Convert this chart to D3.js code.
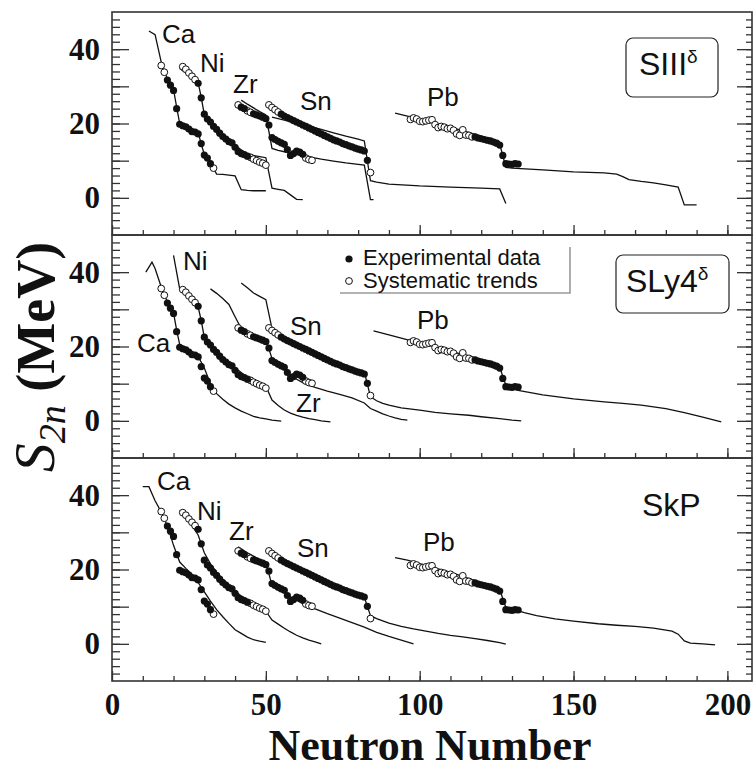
<!DOCTYPE html>
<html>
<head>
<meta charset="utf-8">
<script src="https://cdn.jsdelivr.net/npm/d3@7"></script>
<style>
body { margin: 0; background: #fff; }
text { fill: #111; }
</style>
</head>
<body>
<svg id="s2n-chart" width="756" height="774"></svg>
<script>
// ---- tick labels
var xTicks = [0, 50, 100, 150, 200];
var yTicks = [0, 20, 40];
var elements = ["Ca", "Ni", "Zr", "Sn", "Pb"];

// ---- experimental S2n [N, MeV] (filled) and systematic trends (open)
var caExp = [[18,31.7],[19,30.3],[20,28.9],[21,24.0],[22,19.8],[23,19.4],[24,19.1],[25,18.5],[26,17.8],[27,17.7],[28,17.2],[29,14.6],[30,11.5],[31,10.7],[32,9.2]];
var caSys = [[16,35.6],[17,33.8],[33,8.0]];
var niExp = [[28,30.8],[29,26.9],[30,22.5],[31,21.2],[32,20.4],[33,19.2],[34,18.4],[35,17.4],[36,16.5],[37,15.8],[38,15.1],[39,14.8],[40,13.6],[41,12.4],[42,11.9],[43,11.6],[44,11.2]];
var niSys = [[23,35.3],[24,34.6],[25,33.6],[26,32.7],[27,31.8],[45,10.9],[46,10.4],[47,10.0],[48,9.6],[49,9.3],[50,8.8]];
var zrExp = [[42,24.4],[43,24.0],[46,22.6],[47,22.3],[48,22.0],[49,21.7],[50,21.3],[51,19.6],[52,16.2],[53,15.7],[54,15.2],[55,14.8],[56,14.4],[57,13.0],[58,11.4],[59,11.9],[60,12.6],[61,12.3],[62,11.7]];
var zrSys = [[41,25.0],[44,23.4],[45,23.0],[63,10.7],[64,10.3],[65,10.1]];
var snExp = [[55,22.5],[56,22.0],[57,21.6],[58,21.2],[59,20.8],[60,20.4],[61,20.0],[62,19.6],[63,19.2],[64,18.8],[65,18.4],[66,18.0],[67,17.6],[68,17.2],[69,16.8],[70,16.4],[71,16.0],[72,15.6],[73,15.3],[74,15.0],[75,14.6],[76,14.3],[77,14.0],[78,13.7],[79,13.4],[80,13.1],[81,12.9],[82,12.6],[83,10.1]];
var snSys = [[51,25.0],[52,24.3],[53,23.7],[54,23.1],[84,6.8]];
var pbExp = [[118,16.4],[119,16.1],[120,15.9],[121,15.7],[122,15.5],[123,15.3],[124,15.0],[125,14.7],[126,14.2],[127,11.4],[128,9.2],[129,9.1],[130,9.0],[131,9.2],[132,9.1]];
var pbSys = [[97,21.1],[98,21.5],[99,21.2],[100,20.6],[101,20.5],[102,20.7],[103,20.9],[104,21.0],[105,19.7],[106,18.9],[107,19.2],[108,19.0],[109,18.6],[110,18.7],[111,18.2],[112,17.2],[113,16.8],[114,18.3],[115,16.9],[116,16.8],[117,16.4]];

// ---- HFB curves, SIII^delta
var caSIII = [[12,44.9],[14,43.9],[16,36.5],[18,32.0],[20,29.1],[21,24.5],[22,20.0],[24,19.3],[26,18.4],[28,17.6],[29,14.5],[30,11.6],[32,9.4],[34,6.4],[36,6.3],[38,6.1],[40,5.9],[42,2.2],[44,2.0],[46,1.9],[48,1.9],[50,1.9]];
var niSIII = [[22,34.8],[24,33.6],[26,32.3],[28,31.0],[29,27.0],[30,22.4],[32,20.6],[34,18.9],[36,17.1],[38,15.7],[40,14.3],[42,12.9],[44,11.8],[46,11.4],[48,11.1],[50,10.8],[52,2.6],[54,2.3],[56,2.0],[58,0.8],[60,-0.4],[62,-0.5]];
var zrSIII = [[42,26.3],[44,25.2],[46,24.2],[48,23.2],[50,22.3],[52,13.3],[54,12.8],[56,12.4],[60,11.6],[64,11.0],[68,10.4],[72,9.9],[76,9.4],[80,9.0],[82,8.8],[84,-0.5],[85,-0.5]];
var snSIII = [[52,21.7],[56,20.9],[60,20.1],[64,19.3],[68,18.4],[72,17.5],[76,16.6],[80,15.8],[82,15.3],[84,4.6],[86,4.2],[90,3.7],[100,3.2],[110,2.9],[120,2.6],[126,2.4],[128,-1.5]];
var pbSIII = [[92,22.8],[100,21.2],[110,19.0],[120,16.6],[126,14.5],[128,8.2],[130,8.0],[140,7.5],[150,7.0],[160,6.7],[164,6.4],[166,5.7],[168,4.9],[172,4.4],[176,4.0],[180,3.5],[184,2.9],[186,-1.9],[190,-1.9]];

// ---- SLy4^delta
var caSLy4 = [[11,40.0],[13,42.7],[14,41.0],[16,36.0],[18,32.0],[20,29.0],[21,24.5],[22,20.5],[24,19.5],[26,18.5],[28,17.3],[30,14.2],[32,10.0],[34,7.3],[36,5.8],[38,4.5],[40,3.5],[42,2.6],[44,1.9],[46,1.2],[48,0.8],[50,0.5],[52,0.2],[55,-0.1]];
var niSLy4 = [[20,44.5],[22,35.5],[24,33.8],[26,32.2],[28,30.6],[29,27.0],[30,22.4],[32,20.7],[34,18.9],[36,17.2],[38,15.8],[40,14.3],[42,13.0],[44,11.7],[46,10.8],[48,10.1],[50,9.3],[52,5.6],[54,4.1],[56,2.9],[58,2.1],[60,1.5],[62,1.0],[64,0.6],[66,0.3],[68,0.0],[71,-0.3]];
var zrSLy4 = [[32,35.5],[34,34.3],[36,32.9],[38,31.3],[40,28.0],[42,24.8],[44,23.8],[46,23.0],[48,22.4],[50,21.8],[52,16.8],[54,15.3],[56,13.8],[58,12.4],[60,11.2],[62,10.3],[64,9.6],[66,9.0],[70,8.0],[74,7.1],[78,6.2],[82,4.8],[84,3.3],[86,2.6],[88,1.9],[90,1.3],[92,0.8],[94,0.4],[96,0.2]];
var snSLy4 = [[42,37.1],[44,35.8],[46,34.4],[48,33.5],[50,32.6],[52,24.8],[54,23.6],[56,22.5],[60,20.5],[64,18.7],[68,17.1],[72,15.7],[76,14.6],[80,13.6],[82,13.2],[84,6.5],[86,5.4],[88,4.7],[90,4.2],[94,3.5],[100,2.9],[105,2.3],[110,1.9],[116,1.5],[120,1.1],[126,0.6],[130,0.2],[133,0.0]];
var pbSLy4 = [[85,24.2],[90,23.1],[98,21.4],[106,19.7],[114,17.8],[120,16.2],[126,14.4],[128,9.6],[130,8.7],[132,8.2],[140,7.0],[150,5.9],[160,5.1],[166,4.7],[172,4.2],[180,3.3],[186,2.2],[192,1.0],[198,-0.3]];

// ---- SkP
var caSkP = [[10,42.3],[12,42.3],[14,38.5],[16,35.5],[18,31.8],[20,26.5],[22,22.0],[24,20.3],[26,18.7],[28,16.5],[30,14.0],[32,11.5],[34,9.2],[36,7.3],[38,5.5],[40,3.8],[42,2.8],[44,1.8],[46,1.1],[48,0.7],[50,0.4]];
var niSkP = [[22,35.9],[24,34.0],[26,31.8],[28,29.3],[30,24.5],[32,21.5],[34,19.3],[36,17.4],[38,15.7],[40,14.2],[42,12.9],[44,11.9],[46,10.9],[48,9.9],[50,8.8],[52,6.4],[54,5.3],[56,4.2],[58,3.2],[60,2.3],[62,1.6],[64,1.0],[66,0.5],[68,0.0]];
var zrSkP = [[41,26.1],[42,25.6],[44,24.5],[46,23.6],[48,22.7],[50,21.8],[52,15.8],[54,14.8],[56,13.8],[58,12.6],[60,11.7],[62,10.9],[64,10.1],[66,9.4],[70,8.1],[74,6.9],[78,5.7],[82,4.5],[86,3.1],[90,2.0],[94,1.0],[98,0.0]];
var snSkP = [[51,25.4],[52,24.6],[54,23.5],[56,22.3],[58,21.1],[60,20.1],[62,19.1],[64,18.2],[66,17.3],[68,16.5],[70,15.7],[72,15.0],[74,14.4],[76,13.8],[78,13.3],[80,12.9],[82,12.5],[84,7.6],[86,6.8],[88,6.2],[90,5.6],[94,4.7],[98,4.0],[102,3.4],[106,2.8],[110,2.3],[114,1.9],[118,1.4],[122,0.9],[126,0.3],[128,-0.1]];
var pbSkP = [[92,23.2],[96,22.5],[100,21.6],[106,20.2],[112,18.7],[118,17.0],[122,15.9],[126,14.6],[128,9.8],[130,9.4],[134,8.4],[138,7.6],[144,6.7],[150,6.1],[158,5.4],[164,5.0],[170,4.7],[176,4.2],[182,3.4],[184,2.6],[186,0.8],[188,0.2],[192,0.0],[196,-0.3]];

var expAll = [caExp, niExp, zrExp, snExp, pbExp];
var sysAll = [caSys, niSys, zrSys, snSys, pbSys];

var svg = d3.select("#s2n-chart"),
    left = 112,
    right = 752,
    top0 = 12,
    panelH = 223;

var x = d3.scaleLinear().domain([0, 208]).range([left, right]);

var panels = [
  {name: "SIII", sup: "\u03b4", curves: [caSIII, niSIII, zrSIII, snSIII, pbSIII], box: [626, 26, 92, 59], tx: [639, 63],
   labels: [[162,31],[200,60],[233,81],[300,98],[427,94]]},
  {name: "SLy4", sup: "\u03b4", curves: [caSLy4, niSLy4, zrSLy4, snSLy4, pbSLy4], box: [616, 20, 113, 58], tx: [626, 57],
   labels: [[137,117],[183,35],[296,177],[290,100],[417,94]]},
  {name: "SkP", sup: "", curves: [caSkP, niSkP, zrSkP, snSkP, pbSkP], box: null, tx: [642, 58],
   labels: [[157,32],[197,62],[229,82],[297,99],[423,93]]}
];

panels.forEach(function(p, i) {
  var top = top0 + i * panelH;
  var y = d3.scaleLinear().domain([-10, 50]).range([top + panelH, top]);
  var g = svg.append("g");

  var line = d3.line()
      .x(function(d) { return x(d[0]); })
      .y(function(d) { return y(d[1]); });

  // y axes, ticks pointing inward
  g.append("g").attr("transform", "translate(" + left + ",0)")
      .call(d3.axisLeft(y).tickValues(d3.range(-8, 50, 2)).tickSize(-8).tickFormat(""));
  g.append("g").attr("transform", "translate(" + left + ",0)")
      .call(d3.axisLeft(y).tickValues([0, 10, 20, 30, 40]).tickSize(-17).tickPadding(12)
        .tickFormat(function(d) { return yTicks.indexOf(d) >= 0 ? d : ""; }))
      .attr("class", "yax");
  g.append("g").attr("transform", "translate(" + right + ",0)")
      .call(d3.axisRight(y).tickValues(d3.range(-8, 50, 2)).tickSize(-6).tickFormat(""));
  g.append("g").attr("transform", "translate(" + right + ",0)")
      .call(d3.axisRight(y).tickValues([0, 10, 20, 30, 40]).tickSize(-15).tickFormat(""));

  // x axis at panel bottom
  g.append("g").attr("transform", "translate(0," + (top + panelH) + ")")
      .call(d3.axisBottom(x).tickValues(d3.range(10, 206, 10)).tickSize(-5).tickFormat(""));
  g.append("g").attr("transform", "translate(0," + (top + panelH) + ")")
      .call(d3.axisBottom(x).tickValues(xTicks).tickSize(-10).tickPadding(12)
        .tickFormat(function(d) { return i == 2 ? d : ""; }))
      .attr("class", "xax");

  g.selectAll(".domain").remove();
  g.selectAll(".tick line").attr("stroke", "#333").attr("stroke-width", 1.3);
  g.selectAll(".yax text, .xax text")
      .attr("font-family", "Liberation Serif, Times New Roman, serif")
      .attr("font-weight", "bold")
      .attr("font-size", 31)
      .attr("fill", "#111");

  g.append("rect")
      .attr("x", left).attr("y", top)
      .attr("width", right - left).attr("height", panelH)
      .attr("fill", "none").attr("stroke", "#333").attr("stroke-width", 1.6);

  // theory curves
  g.append("g").selectAll("path")
    .data(p.curves)
    .enter().append("path")
      .attr("d", line)
      .attr("fill", "none")
      .attr("stroke", "#111")
      .attr("stroke-width", 1.3);

  // systematic trends (open) then experiment (filled)
  sysAll.forEach(function(s) {
    g.append("g").selectAll("circle").data(s).enter().append("circle")
        .attr("cx", function(d) { return x(d[0]); })
        .attr("cy", function(d) { return y(d[1]); })
        .attr("r", 3.4)
        .attr("fill", "#fff").attr("stroke", "#111").attr("stroke-width", 1);
  });
  expAll.forEach(function(s) {
    g.append("g").selectAll("circle").data(s).enter().append("circle")
        .attr("cx", function(d) { return x(d[0]); })
        .attr("cy", function(d) { return y(d[1]); })
        .attr("r", 3.6)
        .attr("fill", "#111");
  });

  // element names
  g.append("g").selectAll("text")
    .data(elements)
    .enter().append("text")
      .attr("x", function(d, k) { return p.labels[k][0]; })
      .attr("y", function(d, k) { return top + p.labels[k][1]; })
      .attr("font-family", "Liberation Sans, Arial, sans-serif")
      .attr("font-size", 26)
      .text(function(d) { return d; });

  // model name
  if (p.box) {
    g.append("rect")
        .attr("x", p.box[0]).attr("y", top + p.box[1])
        .attr("width", p.box[2]).attr("height", p.box[3])
        .attr("rx", 7)
        .attr("fill", "#fff").attr("stroke", "#222").attr("stroke-width", 1.2);
  }
  var mt = g.append("text")
      .attr("x", p.tx[0]).attr("y", top + p.tx[1])
      .attr("font-family", "Liberation Sans, Arial, sans-serif")
      .attr("font-size", 32);
  mt.append("tspan").text(p.name);
  if (p.sup) mt.append("tspan").attr("dy", -12).attr("font-size", 19).text(p.sup);
});

// legend in the middle panel
var lg = svg.append("g");
lg.append("path")
    .attr("d", "M340,293H570V247")
    .attr("fill", "none").attr("stroke", "#999").attr("stroke-width", 1.6);
lg.append("circle").attr("cx", 349).attr("cy", 259).attr("r", 3.6).attr("fill", "#111");
lg.append("circle").attr("cx", 349).attr("cy", 281).attr("r", 3.4).attr("fill", "#fff").attr("stroke", "#111");
lg.append("text").attr("x", 363).attr("y", 265)
    .attr("font-family", "Liberation Sans, Arial, sans-serif").attr("font-size", 22)
    .text("Experimental data");
lg.append("text").attr("x", 363).attr("y", 288)
    .attr("font-family", "Liberation Sans, Arial, sans-serif").attr("font-size", 22)
    .text("Systematic trends");

// axis titles
svg.append("text")
    .attr("x", 430).attr("y", 760)
    .attr("text-anchor", "middle")
    .attr("font-family", "Liberation Serif, Times New Roman, serif")
    .attr("font-weight", "bold")
    .attr("font-size", 44)
    .text("Neutron Number");

var yl = svg.append("text")
    .attr("transform", "translate(54,357) rotate(-90)")
    .attr("text-anchor", "middle")
    .attr("font-family", "Liberation Serif, Times New Roman, serif")
    .attr("font-size", 54);
yl.append("tspan").attr("font-style", "italic").attr("font-size", 58).text("S");
yl.append("tspan").attr("font-style", "italic").attr("font-size", 38).attr("dy", 11).text("2n");
yl.append("tspan").attr("font-weight", "bold").attr("dy", -11).text(" (MeV)");
</script>
</body>
</html>
